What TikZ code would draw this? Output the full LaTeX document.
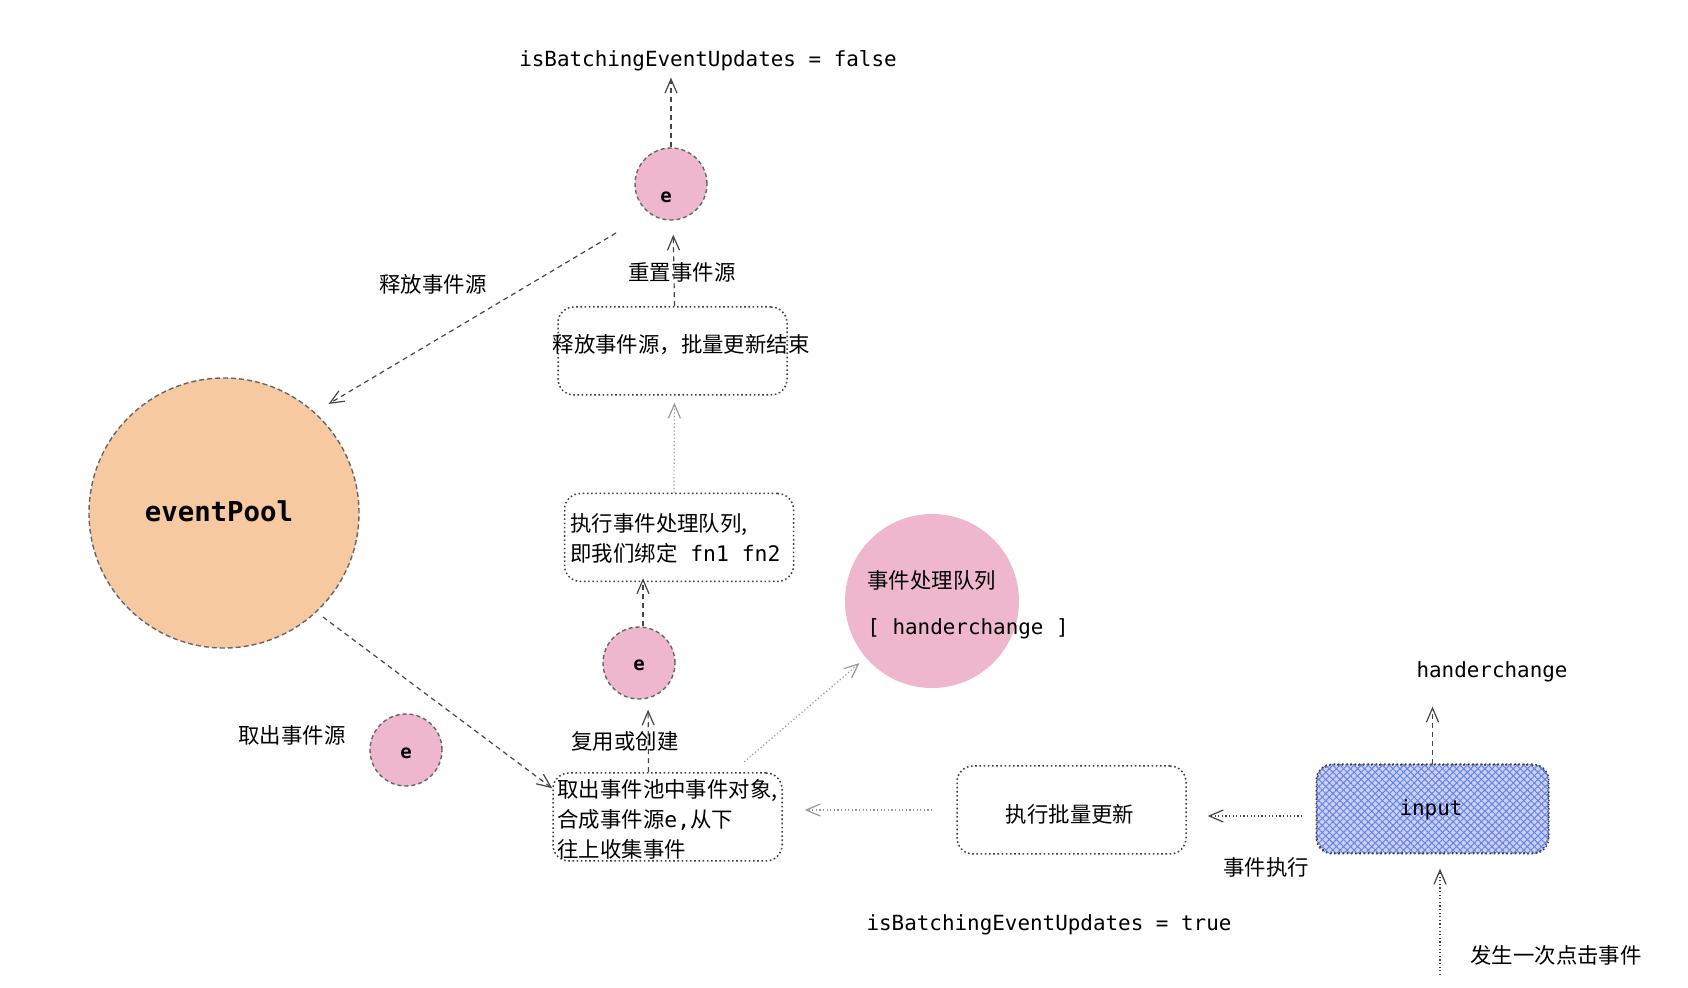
\documentclass[tikz,border=0pt]{standalone}
\usepackage{fontspec}
\setmainfont{Noto Sans CJK SC}
\setmonofont{DejaVu Sans Mono}
\usetikzlibrary{arrows.meta,calc,patterns.meta}
\definecolor{pinkfill}{RGB}{238,183,205}
\definecolor{orangefill}{RGB}{246,201,160}
\definecolor{bluefill}{RGB}{200,210,246}
\definecolor{bluehatch}{RGB}{105,130,230}
\definecolor{lineclr}{RGB}{70,70,70}
\tikzset{
  cn/.style={inner sep=0pt, font=\fontsize{10.7pt}{15pt}\selectfont},
  mono/.style={inner sep=0pt, font=\fontsize{10.45pt}{15pt}\selectfont\ttfamily},
  etext/.style={inner sep=0pt, font=\fontsize{9.5pt}{11pt}\selectfont\ttfamily\bfseries},
  dotbox/.style={draw=black!75, line width=0.75pt, dash pattern=on 0.8pt off 1.3pt, rounded corners=8pt, minimum width=114.5pt, minimum height=44pt, inner sep=0pt},
  ecircle/.style={circle, fill=pinkfill, draw=black!60, line width=0.7pt, dash pattern=on 2pt off 1.5pt, minimum size=36pt, inner sep=0pt},
  tip/.style={-{Straight Barb[length=7pt,width=6pt]}},
  dashline/.style={tip, draw=lineclr, line width=0.6pt, dash pattern=on 2.5pt off 2pt},
  dotlight/.style={tip, draw=black!40, line width=0.6pt, dash pattern=on 0.6pt off 1.2pt},
  dotdark/.style={tip, draw=black!75, line width=0.6pt, dash pattern=on 0.6pt off 1.2pt},
}
\begin{document}
\begin{tikzpicture}[x=0.5pt,y=-0.5pt]
\fill[white] (0,0) rectangle (1688,988);
\useasboundingbox (0,0) rectangle (1688,988);

% circles
\node[circle, fill=orangefill, draw=black!60, line width=0.7pt, dash pattern=on 2.5pt off 1.5pt, minimum size=135pt, inner sep=0pt] (pool) at (224,513) {};
\node[mono, font=\fontsize{13.7pt}{16pt}\selectfont\ttfamily\bfseries] (poolT) at (219,511) {eventPool};

\node[ecircle] (eTop) at (671,184) {};
\node[etext] (eTopT) at (666,197) {e};
\node[ecircle] (eMid) at (639,663) {};
\node[etext] (eMidT) at (639,665) {e};
\node[ecircle] (eSmall) at (406,750) {};
\node[etext] (eSmallT) at (406,753) {e};

\node[circle, fill=pinkfill, minimum size=87pt, inner sep=0pt] (queue) at (932,601) {};
\node[cn, anchor=west] (queueT1) at (867,580) {事件处理队列};
\node[mono, anchor=west] (queueT2) at (867,629) {[ handerchange ]};

% boxes
\node[dotbox] (boxRelease) at (672.5,351) {};
\node[cn] (boxReleaseT) at (681,345) {释放事件源，批量更新结束};
\node[dotbox] (boxExec) at (679,537.5) {};
\node[cn, anchor=west, align=left] (boxExecT) at (570,538) {执行事件处理队列,\\即我们绑定{\ttfamily\ fn1 fn2}};
\node[dotbox] (boxTake) at (667.5,817) {};
\node[cn, anchor=west, align=left] (boxTakeT) at (557,819) {取出事件池中事件对象,\\合成事件源{\ttfamily e,}从下\\往上收集事件};
\node[dotbox] (boxBatch) at (1071.5,810) {};
\node[cn] (boxBatchT) at (1070,814) {执行批量更新};

% input box
\node[dotbox, fill=bluefill, minimum width=115.5pt] (input) at (1432.5,809) {};
\fill[pattern={Lines[angle=45,distance=2.5pt,line width=0.5pt]}, pattern color=bluehatch, rounded corners=8pt]
  (input.south west) rectangle (input.north east);
\fill[pattern={Lines[angle=-45,distance=2.5pt,line width=0.5pt]}, pattern color=bluehatch, rounded corners=8pt]
  (input.south west) rectangle (input.north east);
\draw[black!75, line width=0.75pt, dash pattern=on 0.8pt off 1.3pt, rounded corners=8pt]
  (input.south west) rectangle (input.north east);
\node[mono] (inputT) at (1431,810) {input};

% labels
\node[mono] (falseT) at (708,61) {isBatchingEventUpdates = false};
\node[cn] (resetL) at (682,272) {重置事件源};
\node[cn] (releaseL) at (433,284) {释放事件源};
\node[cn] (takeL) at (292,735) {取出事件源};
\node[cn] (reuseL) at (625,741) {复用或创建};
\node[mono] (hcT) at (1492,672) {handerchange};
\node[cn] (execL) at (1266,867) {事件执行};
\node[mono] (trueT) at (1049,925) {isBatchingEventUpdates = true};
\node[cn] (clickL) at (1556,955) {发生一次点击事件};

% free-end and helper coordinates
\coordinate (relStart) at (616,233);
\coordinate (clickStart) at (1440,975);
\path ($(eMid.north)+(4,0)$) coordinate (eMidUp);
\path (eMidUp |- boxExec.south) coordinate (execIn);

% connectors
\draw[dashline, shorten >=3pt] (eTop.north) -- (eTop.north |- falseT.south);
\draw[dashline, shorten >=7pt] ($(boxRelease.north)+(2,0)$) -- ($(eTop.south)+(2,0)$);
\draw[dotlight, shorten >=3.5pt] ($(boxExec.north)+(-5,0)$) -- ($(boxRelease.south)+(2,0)$);
\draw[dashline, shorten >=-2pt] (eMidUp) -- (execIn);
\draw[dashline, shorten >=5pt] ($(boxTake.north)+(-19,0)$) -- ($(eMid.south)+(9,0)$);
\draw[dashline, shorten >=8pt] (relStart) -- (pool.48);
\draw[dashline, shorten <=4pt] (pool.-47) -- (boxTake.166);
\draw[dotlight, shorten <=8pt, shorten >=4pt] ($(boxTake.north)!0.56!(boxTake.north east)$) -- (queue);
\draw[dotlight, shorten <=12pt, shorten >=11pt] (boxBatch.west) -- (boxTake.east |- boxBatch.west);
\draw[dotdark, shorten <=7pt, shorten >=10.5pt] ($(input.west)+(0,7)$) -- ($(boxBatch.east)+(0,6)$);
\draw[dashline, shorten >=12pt] (input.north) -- (input.north |- hcT.south);
\draw[dotdark, shorten >=7.5pt] (clickStart) -- (clickStart |- input.south);
\end{tikzpicture}
\end{document}
